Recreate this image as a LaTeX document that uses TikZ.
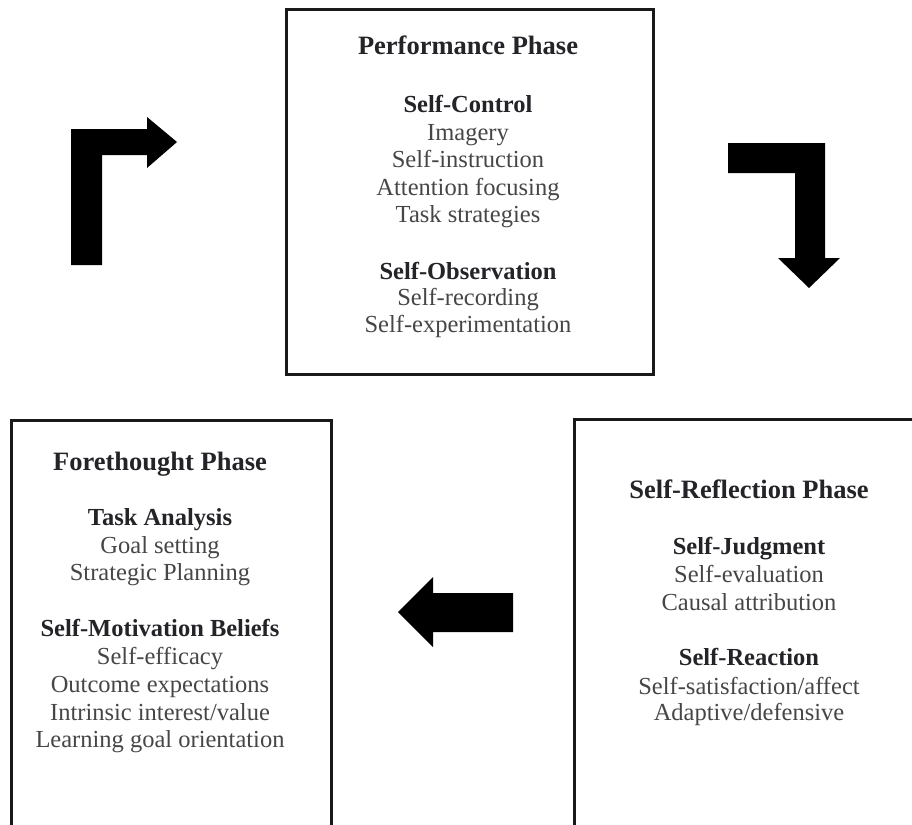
\documentclass[tikz,border=0pt]{standalone}
\usepackage{fontspec}
\setmainfont{Liberation Serif}
\definecolor{bodytxt}{RGB}{70,70,72}
\definecolor{headtxt}{RGB}{35,35,40}
\definecolor{frame}{RGB}{25,25,25}
\begin{document}
\begin{tikzpicture}[x=1pt,y=-1pt,
  box/.style={draw=frame,line width=2.8pt,anchor=north west,inner sep=0pt},
  ttl/.style={font=\fontsize{26.5}{30}\selectfont\bfseries,text=headtxt,text height=18pt,text depth=6pt,inner sep=0pt,yshift=-2pt},
  hd/.style={font=\fontsize{24.5}{28}\selectfont\bfseries,text=headtxt,text height=16.5pt,text depth=5.5pt,inner sep=0pt,yshift=-2pt},
  bd/.style={font=\fontsize{24.5}{28}\selectfont,text=bodytxt,text height=16.5pt,text depth=5.5pt,inner sep=0pt,yshift=-2pt},
  blk/.style={fill=black}]
\useasboundingbox (0,0) rectangle (912,824);
\fill[white] (0,0) rectangle (912,824);
\begin{scope}
\clip (0,0) rectangle (912,824);
\node[box,minimum width=367pt,minimum height=365pt] (perf) at (285,8) {};
\node[box,minimum width=320pt,minimum height=460pt] (fore) at (10,419) {};
\node[box,minimum width=420pt,minimum height=460pt] (refl) at (573,418) {};
\end{scope}
% Performance phase
\node[ttl] (p0) at (468,47) {Performance Phase};
\node[hd] (p1) at (468,105) {Self-Control};
\node[bd] (p2) at (468,133) {Imagery};
\node[bd] (p3) at (468,160) {Self-instruction};
\node[bd] (p4) at (468,188) {Attention focusing};
\node[bd] (p5) at (468,215) {Task strategies};
\node[hd] (p6) at (468,272) {Self-Observation};
\node[bd] (p7) at (468,298) {Self-recording};
\node[bd] (p8) at (468,325) {Self-experimentation};
% Forethought phase
\node[ttl] (f0) at (160,462) {Forethought Phase};
\node[hd] (f1) at (160,518) {Task Analysis};
\node[bd] (f2) at (160,546) {Goal setting};
\node[bd] (f3) at (160,573) {Strategic Planning};
\node[hd] (f4) at (160,629) {Self-Motivation Beliefs};
\node[bd] (f5) at (160,657) {Self-efficacy};
\node[bd] (f6) at (160,685) {Outcome expectations};
\node[bd] (f7) at (160,713) {Intrinsic interest/value};
\node[bd] (f8) at (160,740) {Learning goal orientation};
% Self-reflection phase
\node[ttl] (r0) at (749,490) {Self-Reflection Phase};
\node[hd] (r1) at (749,547) {Self-Judgment};
\node[bd] (r2) at (749,575) {Self-evaluation};
\node[bd] (r3) at (749,603) {Causal attribution};
\node[hd] (r4) at (749,658) {Self-Reaction};
\node[bd] (r5) at (749,687) {Self-satisfaction/affect};
\node[bd] (r6) at (749,713) {Adaptive/defensive};
% block arrows
\fill[blk] (71,265) -- (71,129) -- (147,129) -- (147,117) -- (177,142) -- (147,168) -- (147,155) -- (102,155) -- (102,265) -- cycle;
\fill[blk] (728,143) -- (825,143) -- (825,258) -- (840,258) -- (809,288) -- (778,258) -- (795,258) -- (795,173) -- (728,173) -- cycle;
\fill[blk] (513,593) -- (513,632) -- (433,632) -- (433,647) -- (398,612) -- (433,577) -- (433,593) -- cycle;
\end{tikzpicture}
\end{document}
